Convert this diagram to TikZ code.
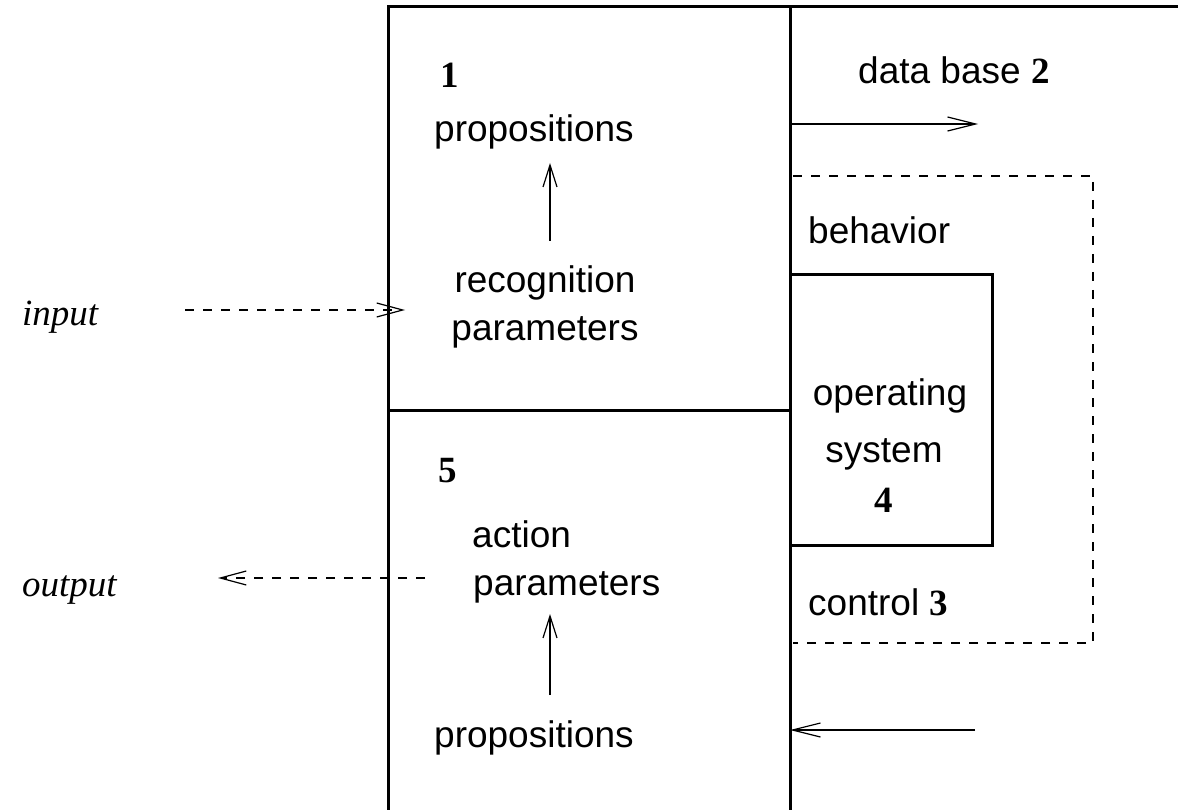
\documentclass[tikz,border=0pt]{standalone}
\usepackage{fontspec}
\setmainfont{Liberation Serif}
\setsansfont{Liberation Sans}
\usetikzlibrary{arrows.meta}
\tikzset{
  frame/.style={line width=3pt},
  lbl/.style={inner sep=0pt, anchor=base west, font=\fontsize{37}{44}\selectfont\sffamily},
  lblc/.style={inner sep=0pt, anchor=base, font=\fontsize{37}{44}\selectfont\sffamily},
  num/.style={inner sep=0pt, anchor=base west, font=\fontsize{37}{44}\selectfont\rmfamily\bfseries},
  ital/.style={inner sep=0pt, anchor=base west, font=\fontsize{37}{44}\selectfont\rmfamily\itshape},
  arr/.style={line width=2.5pt, -{Straight Barb[length=28pt, width=14pt, line width=1.2pt]}},
  varr/.style={line width=2.5pt, -{Straight Barb[length=22pt, width=14pt, line width=1.2pt]}},
  darr/.style={line width=1.5pt, dash pattern=on 9pt off 9pt, -{Straight Barb[length=26pt, width=14pt, line width=1.2pt]}},
  dline/.style={line width=1.5pt, dash pattern=on 9pt off 9pt}
}
\begin{document}
\begin{tikzpicture}[x=1pt, y=-1pt]
\useasboundingbox (0,0) rectangle (1178,810);
% frame
\draw[frame] (388,810) -- (388,7) -- (1178,7);
\draw[frame] (790,7) -- (790,810);
\draw[frame] (388,410) -- (790,410);
% operating system box
\draw[frame] (790,275) -- (992,275) -- (992,545) -- (790,545);
% dashed control box
\draw[dline] (793,176) -- (1093,176) -- (1093,643) -- (793,643);

% texts
\node[num] (n1) at (440,88) {1};
\node[lbl] (prop1) at (434,142) {propositions};
\node[lblc] (rec) at (545,293) {recognition};
\node[lblc] (par1) at (545,341) {parameters};
\node[lbl] (db) at (858,84) {data base \textrm{\bfseries 2}};
\node[lbl] (beh) at (808,244) {behavior};
\node[lblc] (op) at (890,405) {operating};
\node[lblc] (sys) at (884,462) {system};
\node[num, anchor=base] (n4) at (884,512) {4};
\node[lbl] (ctl) at (808,615) {control \textrm{\bfseries 3}};
\node[num] (n5) at (438,482) {5};
\node[lbl] (act) at (472,547) {action};
\node[lbl] (par2) at (473,595) {parameters};
\node[lbl] (prop2) at (434,747) {propositions};
\node[ital] (inp) at (22,326) {input};
\node[ital] (outp) at (22,596) {output};

% arrow endpoints
\coordinate (dbs) at (790,124);
\coordinate (dbe) at (978,124);
\coordinate (ins) at (185,310);
\coordinate (ine) at (405,310);
\coordinate (outs) at (425,578);
\coordinate (oute) at (218,578);
\coordinate (cts) at (975,730);
\coordinate (cte) at (790,730);
\coordinate (v1s) at (550,241);
\coordinate (v1e) at (550,163);
\coordinate (v2s) at (550,695);
\coordinate (v2e) at (550,614);

\draw[arr] (dbs) -- (dbe);
\draw[arr] (cts) -- (cte);
\draw[varr] (v1s) -- (v1e);
\draw[varr] (v2s) -- (v2e);
\draw[darr] (ins) -- (ine);
\draw[darr] (outs) -- (oute);
\end{tikzpicture}
\end{document}
